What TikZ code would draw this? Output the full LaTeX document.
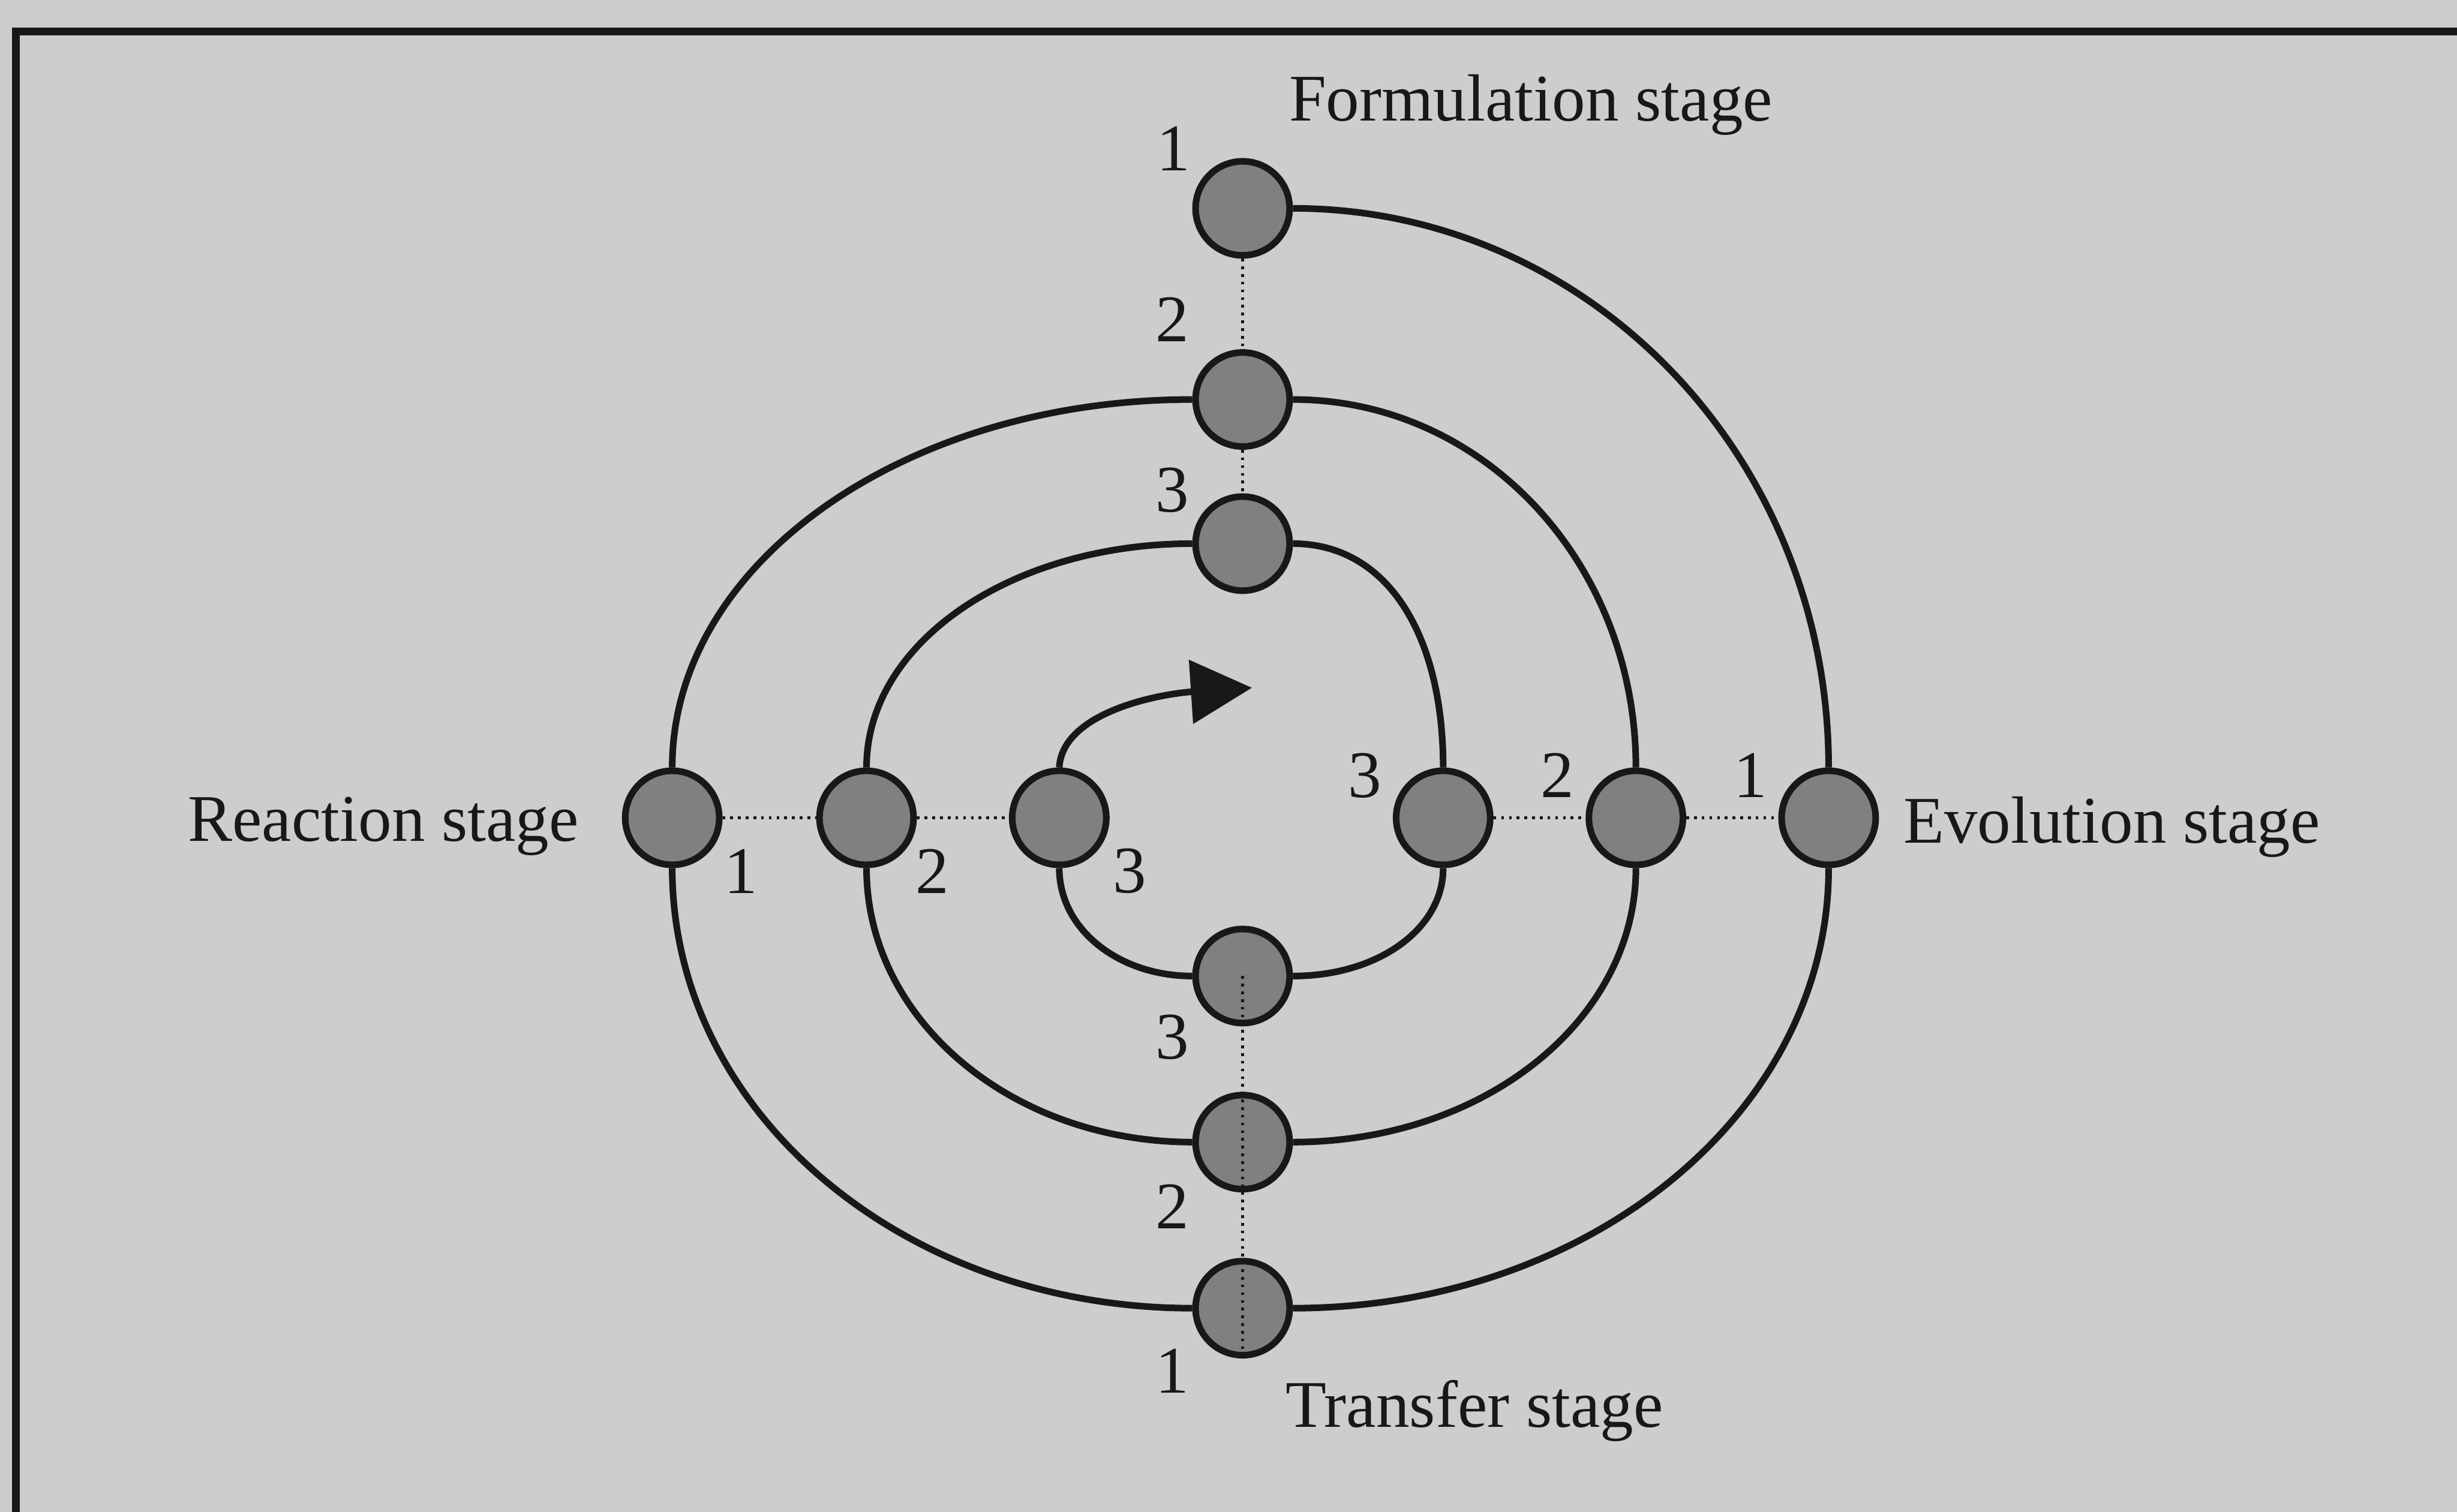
\documentclass[tikz,border=0pt]{standalone}
\usepackage{fontspec}
\setmainfont{Liberation Serif}
\usetikzlibrary{arrows.meta,calc}
\definecolor{paper}{RGB}{205,205,205}
\definecolor{ink}{RGB}{24,24,24}
\definecolor{dotfill}{RGB}{128,128,128}
\begin{document}
\begin{tikzpicture}[x=0.01cm,y=-0.01cm,
  stagept/.style={circle,draw=ink,fill=dotfill,line width=1.2pt,minimum size=0.60cm,inner sep=0pt},
  spiral/.style={draw=ink,line width=1.2pt},
  guide/.style={draw=ink,line width=0.5pt,dash pattern=on 0.5pt off 0.9pt},
  lbl/.style={text=ink,inner sep=0pt,font=\fontsize{12.1pt}{14pt}\selectfont},
  ]
% page and frame
\path[use as bounding box, fill=paper] (0,0) rectangle (1568,965);
\draw[ink, line width=1.4pt] (10,975) -- (10,20) -- (1580,20);

% stage points: formulation (top), transfer (bottom), reaction (left), evolution (right)
\node[stagept] (F1) at (793,133) {};
\node[stagept] (F2) at (793,255) {};
\node[stagept] (F3) at (793,347) {};
\node[stagept] (T3) at (793,623) {};
\node[stagept] (T2) at (793,729) {};
\node[stagept] (T1) at (793,835) {};
\node[stagept] (R1) at (429,522) {};
\node[stagept] (R2) at (553,522) {};
\node[stagept] (R3) at (676,522) {};
\node[stagept] (E3) at (921,522) {};
\node[stagept] (E2) at (1044,522) {};
\node[stagept] (E1) at (1167,522) {};
\coordinate (tip) at (799,439);

% the spiral, from the outer turn inwards
\draw[spiral] (F1.east) .. controls +(189,0) and +(0,-198) .. (E1.north);
\draw[spiral] (E1.south) .. controls +(0,156) and +(189,0) .. (T1.east);
\draw[spiral] (T1.west) .. controls +(-184,0) and +(0,156) .. (R1.south);
\draw[spiral] (R1.north) .. controls +(0,-130) and +(-184,0) .. (F2.west);
\draw[spiral] (F2.east) .. controls +(122,0) and +(0,-130) .. (E2.north);
\draw[spiral] (E2.south) .. controls +(0,97) and +(122,0) .. (T2.east);
\draw[spiral] (T2.west) .. controls +(-115,0) and +(0,97) .. (R2.south);
\draw[spiral] (R2.north) .. controls +(0,-80) and +(-115,0) .. (F3.west);
\draw[spiral] (F3.east) .. controls +(60,0) and +(0,-85) .. (E3.north);
\draw[spiral] (E3.south) .. controls +(0,39) and +(54,0) .. (T3.east);
\draw[spiral] (T3.west) .. controls +(-47,0) and +(0,39) .. (R3.south);
\draw[spiral, -{Triangle[length=0.39cm,width=0.40cm]}]
  (R3.north) .. controls +(2,-35) and +(-60,4) .. (tip);

% dotted guides between stage points
\draw[guide] (F1.south) -- (F2.north);
\draw[guide] (F2.south) -- (F3.north);
\draw[guide] (R1.east) -- (R2.west);
\draw[guide] (R2.east) -- (R3.west);
\draw[guide] (E3.east) -- (E2.west);
\draw[guide] (E2.east) -- (E1.west);
\draw[guide] (T3.center) -- (T1.south);

% stage names
\node[lbl, anchor=base west] (form) at (822,77) {Formulation stage};
\node[lbl, anchor=base east] (react) at (370,537) {Reaction stage};
\node[lbl, anchor=base west] (evol) at (1214,538) {Evolution stage};
\node[lbl, anchor=base west] (trans) at (820,911) {Transfer stage};

% cycle numbers
\node[lbl] (nF1) at (749,95) {1};
\node[lbl] (nF2) at (748,204) {2};
\node[lbl] (nF3) at (748,313) {3};
\node[lbl] (nT3) at (748,662) {3};
\node[lbl] (nT2) at (748,770) {2};
\node[lbl] (nT1) at (748,875) {1};
\node[lbl] (nR1) at (473,556) {1};
\node[lbl] (nR2) at (595,556) {2};
\node[lbl] (nR3) at (721,556) {3};
\node[lbl] (nE3) at (871,495) {3};
\node[lbl] (nE2) at (994,495) {2};
\node[lbl] (nE1) at (1117,495) {1};
\end{tikzpicture}
\end{document}
